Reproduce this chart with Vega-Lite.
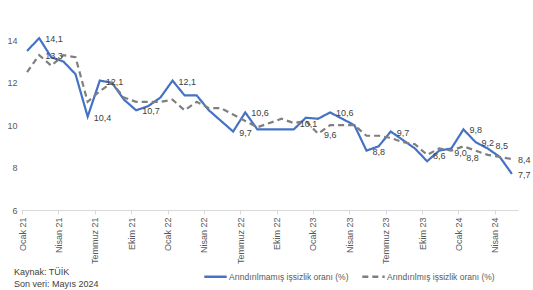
{
  "$schema": "https://vega.github.io/schema/vega-lite/v6.json",
  "width": 497,
  "height": 210,
  "autosize": {"type": "none"},
  "padding": {"left": 21, "top": 0, "right": 15, "bottom": 80},
  "background": "white",
  "config": {"font": "Liberation Sans", "view": {"stroke": null}},
  "title": {
    "text": ["Kaynak: TÜİK", "Son veri: Mayıs 2024"],
    "orient": "bottom",
    "anchor": "start",
    "frame": "group",
    "offset": -14,
    "dx": -7,
    "fontSize": 9,
    "fontWeight": "normal",
    "color": "#404040",
    "lineHeight": 12,
    "baseline": "top"
  },
  "data": {
    "values": [
      {"ay": "Ocak 21", "s": "Arındırılmamış işsizlik oranı (%)", "v": 13.5},
      {"ay": "Şubat 21", "s": "Arındırılmamış işsizlik oranı (%)", "v": 14.1, "etiket": "14,1"},
      {"ay": "Mart 21", "s": "Arındırılmamış işsizlik oranı (%)", "v": 13.2},
      {"ay": "Nisan 21", "s": "Arındırılmamış işsizlik oranı (%)", "v": 13.0},
      {"ay": "Mayıs 21", "s": "Arındırılmamış işsizlik oranı (%)", "v": 12.4},
      {"ay": "Haziran 21", "s": "Arındırılmamış işsizlik oranı (%)", "v": 10.4, "etiket": "10,4"},
      {"ay": "Temmuz 21", "s": "Arındırılmamış işsizlik oranı (%)", "v": 12.1, "etiket": "12,1"},
      {"ay": "Ağustos 21", "s": "Arındırılmamış işsizlik oranı (%)", "v": 12.0},
      {"ay": "Eylül 21", "s": "Arındırılmamış işsizlik oranı (%)", "v": 11.2},
      {"ay": "Ekim 21", "s": "Arındırılmamış işsizlik oranı (%)", "v": 10.7, "etiket": "10,7"},
      {"ay": "Kasım 21", "s": "Arındırılmamış işsizlik oranı (%)", "v": 10.9},
      {"ay": "Aralık 21", "s": "Arındırılmamış işsizlik oranı (%)", "v": 11.3},
      {"ay": "Ocak 22", "s": "Arındırılmamış işsizlik oranı (%)", "v": 12.1, "etiket": "12,1"},
      {"ay": "Şubat 22", "s": "Arındırılmamış işsizlik oranı (%)", "v": 11.4},
      {"ay": "Mart 22", "s": "Arındırılmamış işsizlik oranı (%)", "v": 11.4},
      {"ay": "Nisan 22", "s": "Arındırılmamış işsizlik oranı (%)", "v": 10.7},
      {"ay": "Mayıs 22", "s": "Arındırılmamış işsizlik oranı (%)", "v": 10.2},
      {"ay": "Haziran 22", "s": "Arındırılmamış işsizlik oranı (%)", "v": 9.7, "etiket": "9,7"},
      {"ay": "Temmuz 22", "s": "Arındırılmamış işsizlik oranı (%)", "v": 10.6, "etiket": "10,6"},
      {"ay": "Ağustos 22", "s": "Arındırılmamış işsizlik oranı (%)", "v": 9.8},
      {"ay": "Eylül 22", "s": "Arındırılmamış işsizlik oranı (%)", "v": 9.8},
      {"ay": "Ekim 22", "s": "Arındırılmamış işsizlik oranı (%)", "v": 9.8},
      {"ay": "Kasım 22", "s": "Arındırılmamış işsizlik oranı (%)", "v": 9.8},
      {"ay": "Aralık 22", "s": "Arındırılmamış işsizlik oranı (%)", "v": 10.35},
      {"ay": "Ocak 23", "s": "Arındırılmamış işsizlik oranı (%)", "v": 10.3},
      {"ay": "Şubat 23", "s": "Arındırılmamış işsizlik oranı (%)", "v": 10.6, "etiket": "10,6"},
      {"ay": "Mart 23", "s": "Arındırılmamış işsizlik oranı (%)", "v": 10.3},
      {"ay": "Nisan 23", "s": "Arındırılmamış işsizlik oranı (%)", "v": 10.0},
      {"ay": "Mayıs 23", "s": "Arındırılmamış işsizlik oranı (%)", "v": 8.8, "etiket": "8,8"},
      {"ay": "Haziran 23", "s": "Arındırılmamış işsizlik oranı (%)", "v": 9.0},
      {"ay": "Temmuz 23", "s": "Arındırılmamış işsizlik oranı (%)", "v": 9.7, "etiket": "9,7"},
      {"ay": "Ağustos 23", "s": "Arındırılmamış işsizlik oranı (%)", "v": 9.3},
      {"ay": "Eylül 23", "s": "Arındırılmamış işsizlik oranı (%)", "v": 8.9},
      {"ay": "Ekim 23", "s": "Arındırılmamış işsizlik oranı (%)", "v": 8.3},
      {"ay": "Kasım 23", "s": "Arındırılmamış işsizlik oranı (%)", "v": 8.8},
      {"ay": "Aralık 23", "s": "Arındırılmamış işsizlik oranı (%)", "v": 8.9},
      {"ay": "Ocak 24", "s": "Arındırılmamış işsizlik oranı (%)", "v": 9.8, "etiket": "9,8"},
      {"ay": "Şubat 24", "s": "Arındırılmamış işsizlik oranı (%)", "v": 9.2, "etiket": "9,2"},
      {"ay": "Mart 24", "s": "Arındırılmamış işsizlik oranı (%)", "v": 8.9},
      {"ay": "Nisan 24", "s": "Arındırılmamış işsizlik oranı (%)", "v": 8.5},
      {"ay": "Mayıs 24", "s": "Arındırılmamış işsizlik oranı (%)", "v": 7.7, "etiket": "7,7"},
      {"ay": "Ocak 21", "s": "Arındırılmış işsizlik oranı (%)", "v": 12.5},
      {"ay": "Şubat 21", "s": "Arındırılmış işsizlik oranı (%)", "v": 13.3, "etiket": "13,3"},
      {"ay": "Mart 21", "s": "Arındırılmış işsizlik oranı (%)", "v": 12.8},
      {"ay": "Nisan 21", "s": "Arındırılmış işsizlik oranı (%)", "v": 13.3},
      {"ay": "Mayıs 21", "s": "Arındırılmış işsizlik oranı (%)", "v": 13.2},
      {"ay": "Haziran 21", "s": "Arındırılmış işsizlik oranı (%)", "v": 11.1},
      {"ay": "Temmuz 21", "s": "Arındırılmış işsizlik oranı (%)", "v": 11.6},
      {"ay": "Ağustos 21", "s": "Arındırılmış işsizlik oranı (%)", "v": 12.0},
      {"ay": "Eylül 21", "s": "Arındırılmış işsizlik oranı (%)", "v": 11.3},
      {"ay": "Ekim 21", "s": "Arındırılmış işsizlik oranı (%)", "v": 11.1},
      {"ay": "Kasım 21", "s": "Arındırılmış işsizlik oranı (%)", "v": 11.1},
      {"ay": "Aralık 21", "s": "Arındırılmış işsizlik oranı (%)", "v": 11.1},
      {"ay": "Ocak 22", "s": "Arındırılmış işsizlik oranı (%)", "v": 11.2},
      {"ay": "Şubat 22", "s": "Arındırılmış işsizlik oranı (%)", "v": 10.7},
      {"ay": "Mart 22", "s": "Arındırılmış işsizlik oranı (%)", "v": 11.1},
      {"ay": "Nisan 22", "s": "Arındırılmış işsizlik oranı (%)", "v": 10.8},
      {"ay": "Mayıs 22", "s": "Arındırılmış işsizlik oranı (%)", "v": 10.8},
      {"ay": "Haziran 22", "s": "Arındırılmış işsizlik oranı (%)", "v": 10.5},
      {"ay": "Temmuz 22", "s": "Arındırılmış işsizlik oranı (%)", "v": 10.2},
      {"ay": "Ağustos 22", "s": "Arındırılmış işsizlik oranı (%)", "v": 9.9},
      {"ay": "Eylül 22", "s": "Arındırılmış işsizlik oranı (%)", "v": 10.1},
      {"ay": "Ekim 22", "s": "Arındırılmış işsizlik oranı (%)", "v": 10.3},
      {"ay": "Kasım 22", "s": "Arındırılmış işsizlik oranı (%)", "v": 10.1, "etiket": "10,1"},
      {"ay": "Aralık 22", "s": "Arındırılmış işsizlik oranı (%)", "v": 10.2},
      {"ay": "Ocak 23", "s": "Arındırılmış işsizlik oranı (%)", "v": 9.6, "etiket": "9,6"},
      {"ay": "Şubat 23", "s": "Arındırılmış işsizlik oranı (%)", "v": 10.0},
      {"ay": "Mart 23", "s": "Arındırılmış işsizlik oranı (%)", "v": 10.0},
      {"ay": "Nisan 23", "s": "Arındırılmış işsizlik oranı (%)", "v": 10.0},
      {"ay": "Mayıs 23", "s": "Arındırılmış işsizlik oranı (%)", "v": 9.5},
      {"ay": "Haziran 23", "s": "Arındırılmış işsizlik oranı (%)", "v": 9.5},
      {"ay": "Temmuz 23", "s": "Arındırılmış işsizlik oranı (%)", "v": 9.4},
      {"ay": "Ağustos 23", "s": "Arındırılmış işsizlik oranı (%)", "v": 9.2},
      {"ay": "Eylül 23", "s": "Arındırılmış işsizlik oranı (%)", "v": 9.1},
      {"ay": "Ekim 23", "s": "Arındırılmış işsizlik oranı (%)", "v": 8.6, "etiket": "8,6"},
      {"ay": "Kasım 23", "s": "Arındırılmış işsizlik oranı (%)", "v": 8.9},
      {"ay": "Aralık 23", "s": "Arındırılmış işsizlik oranı (%)", "v": 8.8},
      {"ay": "Ocak 24", "s": "Arındırılmış işsizlik oranı (%)", "v": 9.0, "etiket": "9,0"},
      {"ay": "Şubat 24", "s": "Arındırılmış işsizlik oranı (%)", "v": 8.8, "etiket": "8,8"},
      {"ay": "Mart 24", "s": "Arındırılmış işsizlik oranı (%)", "v": 8.6},
      {"ay": "Nisan 24", "s": "Arındırılmış işsizlik oranı (%)", "v": 8.5, "etiket": "8,5"},
      {"ay": "Mayıs 24", "s": "Arındırılmış işsizlik oranı (%)", "v": 8.4, "etiket": "8,4"}
    ]
  },
  "encoding": {
    "x": {
      "field": "ay",
      "type": "ordinal",
      "sort": null,
      "scale": {"type": "point", "padding": 0.5},
      "axis": {
        "title": null,
        "values": ["Ocak 21", "Nisan 21", "Temmuz 21", "Ekim 21", "Ocak 22", "Nisan 22", "Temmuz 22", "Ekim 22", "Ocak 23", "Nisan 23", "Temmuz 23", "Ekim 23", "Ocak 24", "Nisan 24"],
        "labelAngle": -90,
        "labelAlign": "right",
        "labelBaseline": "middle",
        "labelFontSize": 9,
        "labelColor": "#595959",
        "labelPadding": 3,
        "domainColor": "#d9d9d9",
        "tickColor": "#d9d9d9",
        "tickSize": 4,
        "tickOffset": -5,
        "grid": false
      }
    },
    "y": {
      "field": "v",
      "type": "quantitative",
      "scale": {"domain": [6, 15.9], "nice": false, "zero": false},
      "axis": {
        "title": null,
        "values": [6, 8, 10, 12, 14],
        "domain": false,
        "ticks": false,
        "grid": false,
        "labelFontSize": 9,
        "labelColor": "#595959",
        "labelPadding": 4
      }
    }
  },
  "layer": [
    {
      "mark": {"type": "line", "strokeWidth": 2.2},
      "encoding": {
        "color": {
          "field": "s",
          "type": "nominal",
          "sort": null,
          "scale": {"domain": ["Arındırılmamış işsizlik oranı (%)", "Arındırılmış işsizlik oranı (%)"], "range": ["#4472C4", "#7F7F7F"]},
          "legend": {"title": null, "orient": "none", "legendX": 182, "legendY": 264, "direction": "horizontal", "symbolType": "stroke", "symbolSize": 500, "symbolStrokeWidth": 2.5, "labelFontSize": 8.5, "labelColor": "#595959", "columnPadding": 8, "labelOffset": 1, "labelLimit": 300}
        },
        "strokeDash": {
          "field": "s",
          "type": "nominal",
          "sort": null,
          "scale": {"domain": ["Arındırılmamış işsizlik oranı (%)", "Arındırılmış işsizlik oranı (%)"], "range": [[1, 0], [6, 4]]},
          "legend": {"title": null, "orient": "none", "legendX": 182, "legendY": 264, "direction": "horizontal", "symbolType": "stroke", "symbolSize": 500, "symbolStrokeWidth": 2.5, "labelFontSize": 8.5, "labelColor": "#595959", "columnPadding": 8, "labelOffset": 1, "labelLimit": 300}
        }
      }
    },
    {
      "transform": [{"filter": "datum.etiket && !(datum.s == 'Arındırılmış işsizlik oranı (%)' && (datum.ay == 'Ocak 24' || datum.ay == 'Şubat 24' || datum.ay == 'Nisan 24'))"}],
      "mark": {"type": "text", "align": "left", "baseline": "middle", "dx": 6, "dy": 1, "fontSize": 9, "color": "#404040"},
      "encoding": {"text": {"field": "etiket"}}
    },
    {
      "transform": [{"filter": "datum.etiket && datum.s == 'Arındırılmış işsizlik oranı (%)' && (datum.ay == 'Ocak 24' || datum.ay == 'Şubat 24')"}],
      "mark": {"type": "text", "align": "center", "baseline": "top", "dy": 3, "dx": -3, "fontSize": 9, "color": "#404040"},
      "encoding": {"text": {"field": "etiket"}}
    },
    {
      "transform": [{"filter": "datum.etiket && datum.s == 'Arındırılmış işsizlik oranı (%)' && datum.ay == 'Nisan 24'"}],
      "mark": {"type": "text", "align": "center", "baseline": "bottom", "dy": -6, "dx": 2, "fontSize": 9, "color": "#404040"},
      "encoding": {"text": {"field": "etiket"}}
    }
  ]
}
